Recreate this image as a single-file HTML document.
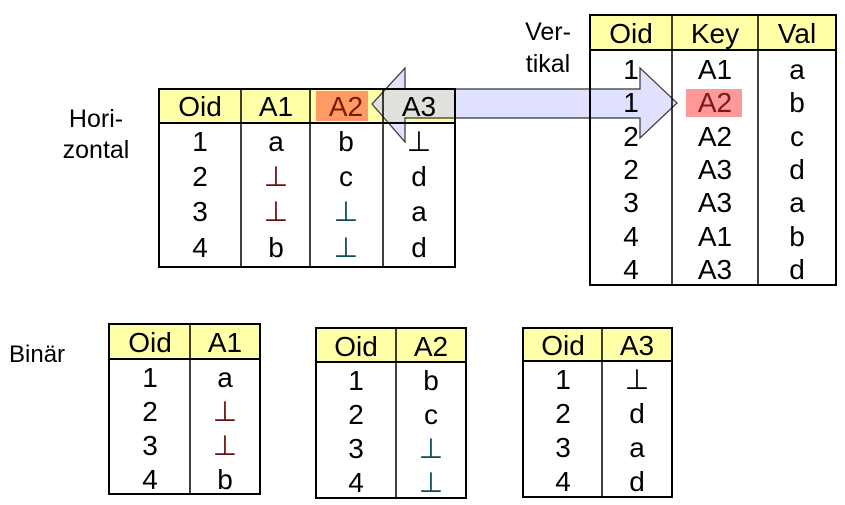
<!DOCTYPE html>
<html><head><meta charset="utf-8"><style>
html,body{margin:0;padding:0;background:#fff;width:845px;height:505px;overflow:hidden}
svg text{font-family:"Liberation Sans",Arial,sans-serif}
</style></head><body>
<svg width="845" height="505" viewBox="0 0 845 505" xmlns="http://www.w3.org/2000/svg">
<g font-size="25" fill="#000">
<text x="96" y="127" text-anchor="middle">Hori-</text>
<text x="96" y="158" text-anchor="middle">zontal</text>
<text x="548" y="40" text-anchor="middle">Ver-</text>
<text x="548" y="72" text-anchor="middle">tikal</text>
<text x="9" y="362" font-size="24">Binär</text>
</g>

<!-- fills -->
<rect x="159" y="89" width="296" height="34" fill="#ffffa8"/>
<rect x="316" y="91" width="52" height="30" fill="#ff9966"/>
<rect x="590" y="15" width="246" height="35" fill="#ffffa8"/>
<rect x="686" y="89" width="56" height="28" fill="#ff9999"/>

<!-- Double arrow -->
<path d="M372,104 L405,68 L405,89 L640,89 L640,68 L677,103 L640,138 L640,118 L405,118 L405,142 Z" fill="#ccccff" fill-opacity="0.6" stroke="#333" stroke-width="1.2"/>

<!-- Horizontal table -->
<g stroke="#000" stroke-width="2" fill="none">
<rect x="159" y="89" width="296" height="178"/>
<line x1="159" y1="123" x2="455" y2="123"/>
<line x1="241" y1="89" x2="241" y2="267" stroke-width="1.5"/>
<line x1="310" y1="89" x2="310" y2="267" stroke-width="1.5"/>
<line x1="383" y1="89" x2="383" y2="267" stroke-width="1.5"/>
</g>
<g font-size="28" text-anchor="middle">
<text x="200" y="116">Oid</text><text x="276" y="116">A1</text><text x="346" y="116" fill="#7a1a00">A2</text><text x="419" y="116">A3</text>
<text x="200" y="151">1</text><text x="276" y="151">a</text><text x="346" y="151">b</text><text x="419" y="151">⊥</text>
<text x="200" y="186">2</text><text x="276" y="186" fill="#6a1010">⊥</text><text x="346" y="186">c</text><text x="419" y="186">d</text>
<text x="200" y="221">3</text><text x="276" y="221" fill="#6a1010">⊥</text><text x="346" y="221" fill="#104a5a">⊥</text><text x="419" y="221">a</text>
<text x="200" y="257">4</text><text x="276" y="257">b</text><text x="346" y="257" fill="#104a5a">⊥</text><text x="419" y="257">d</text>
</g>

<!-- Vertical table -->
<g stroke="#000" stroke-width="2" fill="none">
<rect x="590" y="15" width="246" height="270"/>
<line x1="590" y1="50" x2="836" y2="50"/>
<line x1="672" y1="15" x2="672" y2="285" stroke-width="1.5"/>
<line x1="758" y1="15" x2="758" y2="285" stroke-width="1.5"/>
</g>
<g font-size="28" text-anchor="middle">
<text x="631" y="43">Oid</text><text x="715" y="43">Key</text><text x="797" y="43">Val</text>
<text x="631" y="79">1</text><text x="715" y="79">A1</text><text x="797" y="79">a</text>
<text x="631" y="112">1</text><text x="715" y="112" fill="#7a1a1a">A2</text><text x="797" y="112">b</text>
<text x="631" y="146">2</text><text x="715" y="146">A2</text><text x="797" y="146">c</text>
<text x="631" y="179">2</text><text x="715" y="179">A3</text><text x="797" y="179">d</text>
<text x="631" y="212">3</text><text x="715" y="212">A3</text><text x="797" y="212">a</text>
<text x="631" y="246">4</text><text x="715" y="246">A1</text><text x="797" y="246">b</text>
<text x="631" y="279">4</text><text x="715" y="279">A3</text><text x="797" y="279">d</text>
</g>

<!-- Binary tables -->
<g>
<rect x="109" y="324" width="151" height="35" fill="#ffffa8"/>
<rect x="316" y="328" width="150" height="34" fill="#ffffa8"/>
<rect x="523" y="328" width="149" height="33" fill="#ffffa8"/>
<g stroke="#000" stroke-width="2" fill="none">
<rect x="109" y="324" width="151" height="170"/><line x1="109" y1="359" x2="260" y2="359"/><line x1="190" y1="324" x2="190" y2="494" stroke-width="1.5"/>
<rect x="316" y="328" width="150" height="170"/><line x1="316" y1="362" x2="466" y2="362"/><line x1="396" y1="328" x2="396" y2="498" stroke-width="1.5"/>
<rect x="523" y="328" width="149" height="169"/><line x1="523" y1="361" x2="672" y2="361"/><line x1="602" y1="328" x2="602" y2="497" stroke-width="1.5"/>
</g>
<g font-size="28" text-anchor="middle">
<text x="150" y="352">Oid</text><text x="225" y="352">A1</text>
<text x="150" y="387">1</text><text x="225" y="387">a</text>
<text x="150" y="421">2</text><text x="225" y="421" fill="#6a1010">⊥</text>
<text x="150" y="455">3</text><text x="225" y="455" fill="#6a1010">⊥</text>
<text x="150" y="489">4</text><text x="225" y="489">b</text>

<text x="356" y="356">Oid</text><text x="431" y="356">A2</text>
<text x="356" y="390">1</text><text x="431" y="390">b</text>
<text x="356" y="424">2</text><text x="431" y="424">c</text>
<text x="356" y="458">3</text><text x="431" y="458" fill="#104a5a">⊥</text>
<text x="356" y="492">4</text><text x="431" y="492" fill="#104a5a">⊥</text>

<text x="563" y="355">Oid</text><text x="637" y="355">A3</text>
<text x="563" y="389">1</text><text x="637" y="389">⊥</text>
<text x="563" y="423">2</text><text x="637" y="423">d</text>
<text x="563" y="457">3</text><text x="637" y="457">a</text>
<text x="563" y="491">4</text><text x="637" y="491">d</text>
</g>
</g>
</svg>
</body></html>
